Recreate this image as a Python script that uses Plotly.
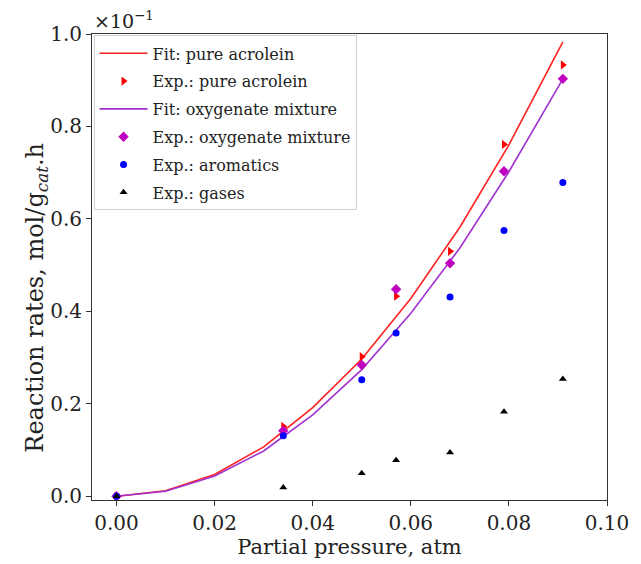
import plotly.graph_objects as go

# Data (values as displayed on the axis, ×10^-1)
x_fit = [0.0, 0.01, 0.02, 0.03, 0.04, 0.05, 0.06, 0.07, 0.08, 0.091]
fit_acrolein = [0.0, 0.012, 0.047, 0.107, 0.192, 0.297, 0.428, 0.582, 0.760, 0.983]
fit_mixture = [0.0, 0.011, 0.044, 0.098, 0.176, 0.274, 0.396, 0.537, 0.702, 0.903]

x_exp = [0.0, 0.034, 0.05, 0.057, 0.068, 0.079, 0.091]
exp_acrolein = [0.0, 0.151, 0.302, 0.433, 0.530, 0.761, 0.933]
exp_mixture = [0.0, 0.142, 0.284, 0.448, 0.504, 0.703, 0.903]
exp_aromatics = [0.0, 0.131, 0.252, 0.353, 0.431, 0.575, 0.679]
exp_gases = [0.0, 0.019, 0.050, 0.078, 0.095, 0.183, 0.254]

x_ticks = [0.0, 0.02, 0.04, 0.06, 0.08, 0.10]
y_ticks = [0.0, 0.2, 0.4, 0.6, 0.8, 1.0]

FONT = "DejaVu Serif"

fig = go.Figure()
fig.add_trace(go.Scatter(x=x_fit, y=fit_acrolein, mode="lines", name="Fit: pure acrolein",
                         legendgroup="g1", line=dict(color="#ff2020", width=1.6)))
fig.add_trace(go.Scatter(x=x_exp, y=exp_acrolein, mode="markers", name="Exp.: pure acrolein",
                         legendgroup="g2",
                         marker=dict(symbol="triangle-right", color="#ff0000", size=8)))
fig.add_trace(go.Scatter(x=x_fit, y=fit_mixture, mode="lines", name="Fit: oxygenate mixture",
                         legendgroup="g3", line=dict(color="#a033d0", width=1.6)))
fig.add_trace(go.Scatter(x=x_exp, y=exp_mixture, mode="markers", name="Exp.: oxygenate mixture",
                         legendgroup="g4",
                         marker=dict(symbol="diamond", color="#bf00bf", size=8)))
fig.add_trace(go.Scatter(x=x_exp, y=exp_aromatics, mode="markers", name="Exp.: aromatics",
                         legendgroup="g5",
                         marker=dict(symbol="circle", color="#0000ff", size=7)))
fig.add_trace(go.Scatter(x=x_exp, y=exp_gases, mode="markers", name="Exp.: gases",
                         legendgroup="g6",
                         marker=dict(symbol="triangle-up", color="#000000", size=7)))

axis_common = dict(
    showgrid=False, zeroline=False, showline=True, linecolor="#333333", linewidth=1,
    mirror=True, ticks="outside", ticklen=5, tickcolor="#333333",
    tickfont=dict(family=FONT, size=20, color="#222222"),
)

fig.update_layout(
    width=641, height=564,
    margin=dict(l=92, r=27, t=34, b=61),
    paper_bgcolor="white", plot_bgcolor="white",
    font=dict(family=FONT, color="#222222"),
    xaxis=dict(range=[-0.005, 0.1], tickvals=x_ticks,
               ticktext=[f"{v:.2f}" for v in x_ticks],
               title=dict(text="Partial pressure, atm", font=dict(family=FONT, size=21), standoff=2),
               **axis_common),
    yaxis=dict(range=[-0.008, 1.0], tickvals=y_ticks,
               ticktext=[f"{v:.1f}" for v in y_ticks],
               **axis_common),
    legend=dict(x=0.003, y=0.997, xanchor="left", yanchor="top",
                bgcolor="rgba(255,255,255,0.85)", bordercolor="#d0d0d0", borderwidth=1,
                font=dict(family=FONT, size=16, color="#222222"),
                traceorder="grouped", tracegroupgap=4, itemwidth=48),
    annotations=[
        dict(text="×10<sup>−1</sup>", xref="paper", yref="paper", x=0.0, y=1.0,
             xanchor="left", yanchor="bottom", showarrow=False,
             font=dict(family=FONT, size=19, color="#222222")),
        dict(text="Reaction rates, mol/g<sub><i>cat</i></sub>.h", xref="paper", yref="paper",
             x=-0.108, y=0.435, xanchor="center", yanchor="middle", textangle=-90,
             showarrow=False, font=dict(family=FONT, size=24, color="#222222")),
    ],
)

fig.write_html("out.html")
